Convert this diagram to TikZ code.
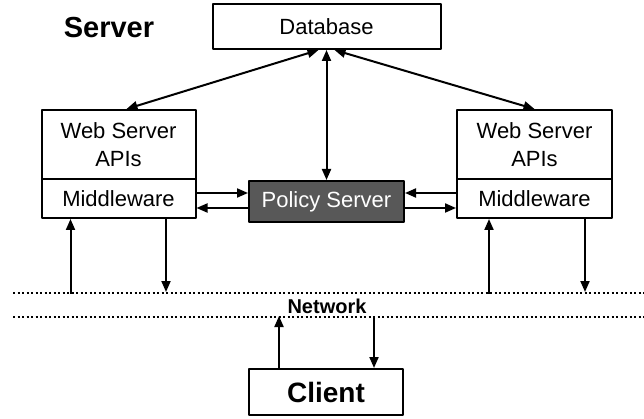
\documentclass[tikz,border=0pt]{standalone}
\usepackage{fontspec}
\setmainfont{Liberation Sans}
\usetikzlibrary{arrows.meta,calc}
\definecolor{policygray}{RGB}{88,88,88}
\begin{document}
\begin{tikzpicture}[x=1pt, y=-1pt, line join=round, >={Triangle[length=11pt,width=9pt]},
		box/.style={draw, line width=2pt, inner sep=0pt, align=center, font=\fontsize{22}{28}\selectfont},
		arr/.style={line width=2pt},
		net/.style={line width=2pt, dash pattern=on 2pt off 2.5pt}]
	\useasboundingbox (0,0) rectangle (644,419);
	\node[font=\fontsize{29}{32}\selectfont\bfseries] (srv) at (109,28) {Server};
	\node[box, minimum width=228pt, minimum height=45pt] (db) at (326.5,26.5) {Database};
	\node[box, minimum width=154pt, minimum height=69pt] (webL) at (118.5,144.5) {Web Server\\APIs};
	\node[box, minimum width=154pt, minimum height=39pt] (mwL) at (118.5,198.5) {Middleware};
	\node[box, minimum width=155pt, minimum height=69pt] (webR) at (534.5,144.5) {Web Server\\APIs};
	\node[box, minimum width=155pt, minimum height=39pt] (mwR) at (534.5,198.5) {Middleware};
	\node[box, fill=policygray, text=white, minimum width=155pt, minimum height=41pt] (pol) at (326.5,201.5) {Policy Server};
	\node[box, font=\fontsize{28}{30}\selectfont\bfseries, minimum width=154pt, minimum height=46pt] (cli) at (326,392) {Client};
	\draw[net] (13,293) -- (644,293);
	\draw[net] (13,317) -- (644,317);
	\node[font=\fontsize{20}{22}\selectfont\bfseries] (netlbl) at (327,306) {Network};
	\draw[arr,<->] ($(db.south)+(-8,0)$) -- ($(webL.north)+(8,0)$);
	\draw[arr,<->] (db.south) -- (pol.north);
	\draw[arr,<->] ($(db.south)+(8,0)$) -- (webR.north);
	\draw[arr,->] ($(mwL.east)+(0,-5.5)$) -- ($(pol.west)+(0,-8.5)$);
	\draw[arr,<-] ($(mwL.east)+(0,9.5)$) -- ($(pol.west)+(0,6.5)$);
	\draw[arr,<-] ($(pol.east)+(0,-8.5)$) -- ($(mwR.west)+(0,-5.5)$);
	\draw[arr,->] ($(pol.east)+(0,6.5)$) -- ($(mwR.west)+(0,9.5)$);
	\draw[arr,<-] ($(mwL.south)+(-48,0)$) -- ++(0,75);
	\draw[arr,->] ($(mwL.south)+(47.5,0)$) -- ++(0,73);
	\draw[arr,<-] ($(mwR.south)+(-45.5,0)$) -- ++(0,75);
	\draw[arr,->] ($(mwR.south)+(50.5,0)$) -- ++(0,73);
	\draw[arr,->] ($(cli.north)+(-47,0)$) -- ++(0,-52);
	\draw[arr,<-] ($(cli.north)+(48,0)$) -- ++(0,-52);
\end{tikzpicture}
\end{document}
